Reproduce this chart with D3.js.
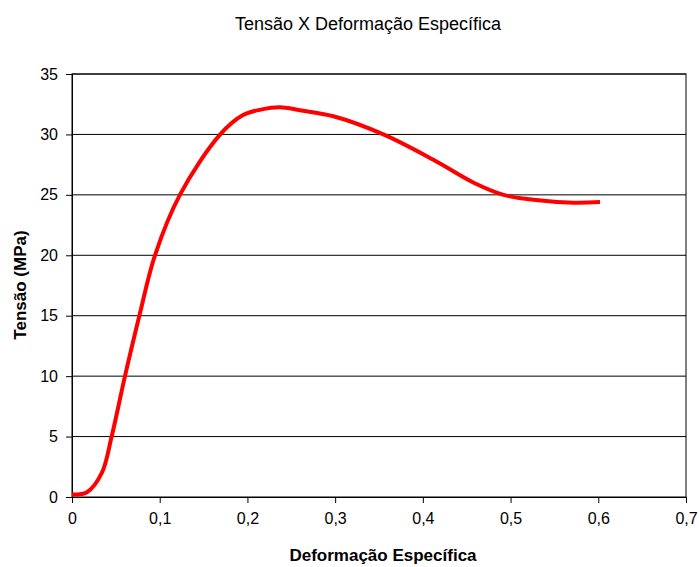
<!DOCTYPE html>
<html>
<head>
<meta charset="utf-8">
<script src="https://cdn.jsdelivr.net/npm/d3@7"></script>
<style>
  body { margin: 0; background: #fff; }
  text { font-family: "Liberation Sans", Arial, sans-serif; }
</style>
</head>
<body>
<svg width="699" height="567"></svg>
<script>
// data
var strain = [0, 0.017, 0.034, 0.0452, 0.0604, 0.0768, 0.0946, 0.123, 0.169, 0.195, 0.215, 0.237, 0.26, 0.298, 0.355, 0.412, 0.458, 0.492, 0.526, 0.572, 0.602];
var stress = [0.2, 0.4, 2.0, 5, 10, 15, 20, 25, 30, 31.6, 32.05, 32.25, 32.0, 31.5, 30.0, 27.9, 26.0, 25.0, 24.6, 24.35, 24.4];
var xTicks = [0, 0.1, 0.2, 0.3, 0.4, 0.5, 0.6, 0.7];
var yTicks = [0, 5, 10, 15, 20, 25, 30, 35];

var svg = d3.select("svg");
var margin = {top: 74, right: 13, bottom: 70, left: 72};
var width = 686 - margin.left,
    height = 497 - margin.top;

var data = strain.map(function(d, i) { return {x: d, y: stress[i]}; });
var fmt = function(d) { return String(d).replace(".", ","); };

var xScale = d3.scaleLinear().domain([0, 0.7]).range([0, width]);
var yScale = d3.scaleLinear().domain([0, 35]).range([height, 0]);

var g = svg.append("g")
  .attr("transform", "translate(" + margin.left + "," + margin.top + ")");

// gridlines
g.selectAll(".grid").data(yTicks.slice(1)).enter().append("line")
  .attr("x1", 0).attr("x2", width)
  .attr("y1", function(d) { return yScale(d); })
  .attr("y2", function(d) { return yScale(d); })
  .attr("stroke", "#000").attr("stroke-width", 1);

// plot border
g.append("rect")
  .attr("width", width).attr("height", height)
  .attr("fill", "none").attr("stroke", "#000").attr("stroke-width", 1);

var xAxis = d3.axisBottom(xScale).tickValues(xTicks).tickFormat(fmt).tickSize(6).tickPadding(10);
var yAxis = d3.axisLeft(yScale).tickValues(yTicks).tickSize(6).tickPadding(8);

var gX = g.append("g").attr("transform", "translate(0," + height + ")").call(xAxis);
var gY = g.append("g").call(yAxis);
[gX, gY].forEach(function(a) {
  a.select(".domain").attr("stroke", "#000");
  a.selectAll(".tick line").attr("stroke", "#000");
  a.selectAll("text").attr("font-size", 16).attr("fill", "#000")
    .style("font-family", "'Liberation Sans', Arial, sans-serif");
});

// curve
var line = d3.line()
  .x(function(d) { return xScale(d.x); })
  .y(function(d) { return yScale(d.y); })
  .curve(d3.curveCatmullRom.alpha(0.5));

g.append("path").datum(data)
  .attr("d", line)
  .attr("fill", "none")
  .attr("stroke", "#ff0000")
  .attr("stroke-width", 4)
  .attr("stroke-linejoin", "round");

// titles
svg.append("text").attr("x", 368).attr("y", 30)
  .attr("text-anchor", "middle").attr("font-size", 18)
  .text("Tensão X Deformação Específica");

svg.append("text").attr("x", 383).attr("y", 561)
  .attr("text-anchor", "middle").attr("font-size", 17).attr("font-weight", "bold")
  .text("Deformação Específica");

svg.append("text")
  .attr("transform", "translate(26,285) rotate(-90)")
  .attr("text-anchor", "middle").attr("font-size", 17).attr("font-weight", "bold")
  .text("Tensão (MPa)");
</script>
</body>
</html>
